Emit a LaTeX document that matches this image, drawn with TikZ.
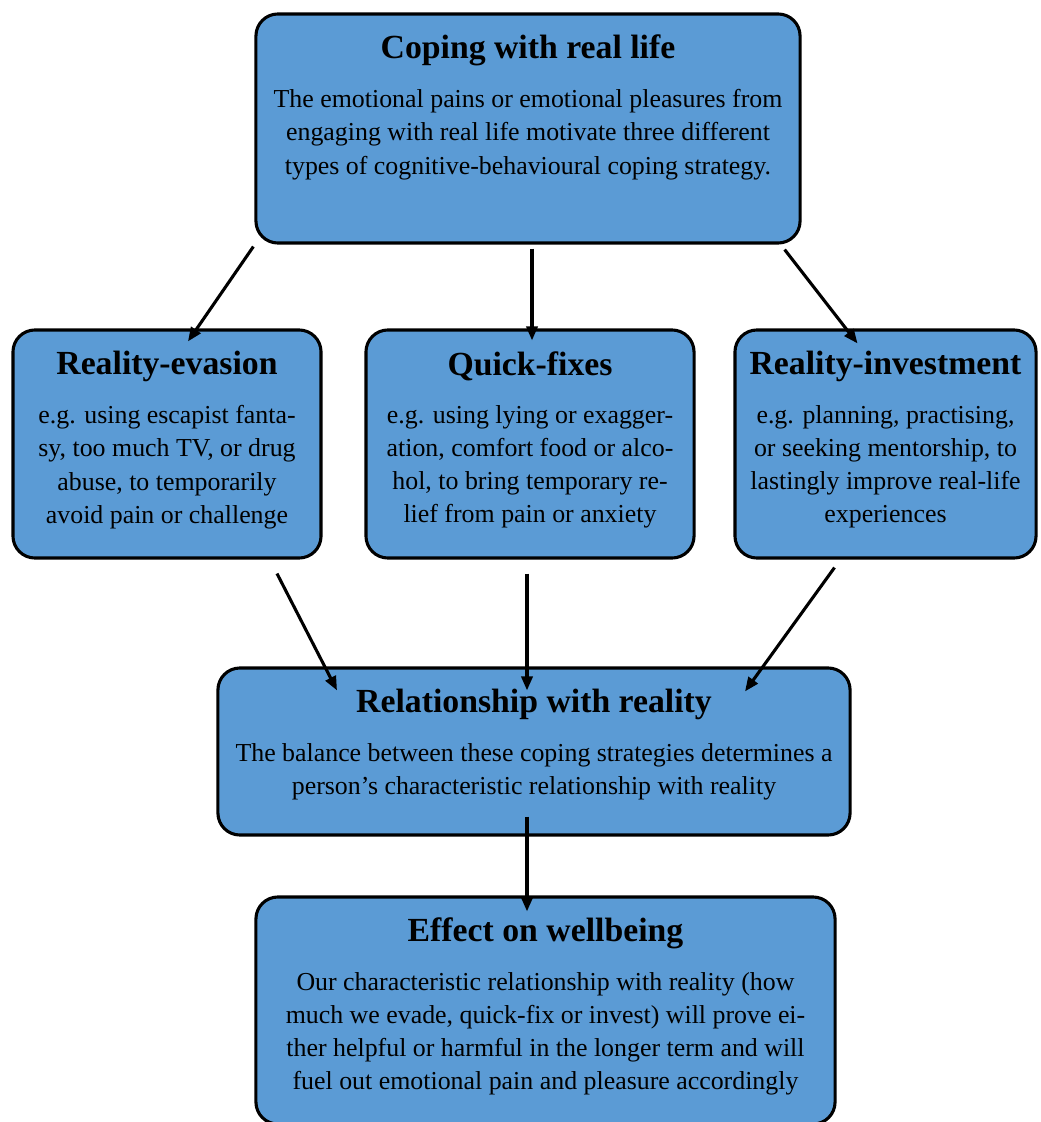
\documentclass[tikz,border=0pt]{standalone}
\usepackage{fontspec}
\setmainfont{Liberation Serif}
\usetikzlibrary{arrows.meta,positioning}
\definecolor{boxblue}{RGB}{91,155,213}
\tikzset{%
    stage/.style={draw=black, line width=2.2pt, fill=boxblue, rounded corners=0.55cm, inner sep=0pt},
    ttl/.style={font=\fontsize{24}{27}\selectfont\bfseries, inner sep=0pt},
    blurb/.style={font=\fontsize{18.4}{23.5}\selectfont, align=center, inner sep=0pt},
    link/.style={-{Triangle[length=10pt,width=8pt]}, line width=2.2pt}
}
\begin{document}
\begin{tikzpicture}[x=0.025cm,y=-0.025cm]
    \useasboundingbox (0,0) rectangle (1040,1122);
    % boxes
    \node[stage, minimum width=13.6cm, minimum height=5.725cm] (cope) at (528,128.5) {};
    \node[stage, minimum width=7.7cm, minimum height=5.7cm] (eva) at (167,444) {};
    \node[stage, minimum width=8.2cm, minimum height=5.7cm] (quick) at (530,444) {};
    \node[stage, minimum width=7.525cm, minimum height=5.7cm] (inv) at (885.5,444) {};
    \node[stage, minimum width=15.8cm, minimum height=4.175cm] (rel) at (534,751.5) {};
    \node[stage, minimum width=14.475cm, minimum height=5.675cm] (eff) at (545.5,1010.5) {};
    % titles
    \node[ttl] (copeT) at ([shift={(0,38)}]cope.north) {Coping with real life};
    \node[ttl] (evaT) at ([shift={(0,38)}]eva.north) {Reality-evasion};
    \node[ttl] (quickT) at ([shift={(0,38)}]quick.north) {Quick-fixes};
    \node[ttl] (invT) at ([shift={(0,38)}]inv.north) {Reality-investment};
    \node[ttl] (relT) at ([shift={(0,38)}]rel.north) {Relationship with reality};
    \node[ttl] (effT) at ([shift={(0,38)}]eff.north) {Effect on wellbeing};
    % texts
    \node[blurb, anchor=north] (copeB) at ([shift={(0,77)}]cope.north)
        {The emotional pains or emotional pleasures from\\engaging with real life motivate three different\\types of cognitive-behavioural coping strategy.};
    \node[blurb, anchor=north] (evaB) at ([shift={(0,77)}]eva.north)
        {e.g. using escapist fanta-\\sy, too much TV, or drug\\abuse, to temporarily\\avoid pain or challenge};
    \node[blurb, anchor=north] (quickB) at ([shift={(0,77)}]quick.north)
        {e.g. using lying or exagger-\\ation, comfort food or alco-\\hol, to bring temporary re-\\lief from pain or anxiety};
    \node[blurb, anchor=north] (invB) at ([shift={(0,77)}]inv.north)
        {e.g. planning, practising,\\or seeking mentorship, to\\lastingly improve real-life\\experiences};
    \node[blurb, anchor=north] (relB) at ([shift={(0,77)}]rel.north)
        {The balance between these coping strategies determines a\\person’s characteristic relationship with reality};
    \node[blurb, anchor=north] (effB) at ([shift={(0,77)}]eff.north)
        {Our characteristic relationship with reality (how\\much we evade, quick-fix or invest) will prove ei-\\ther helpful or harmful in the longer term and will\\fuel out emotional pain and pleasure accordingly};
    % arrows
    \draw[link] ([shift={(-1,2)}]cope.south west) -- ([shift={(21,13)}]eva.north);
    \draw[link] ([shift={(4,4)}]cope.south) -- ([shift={(2,12)}]quick.north);
    \draw[link] ([shift={(-17,5)}]cope.south east) -- ([shift={(-28,15)}]inv.north);
    \draw[link] ([shift={(110,14)}]eva.south) -- ([shift={(-197,24)}]rel.north);
    \draw[link] ([shift={(-3,14)}]quick.south) -- ([shift={(-7,24)}]rel.north);
    \draw[link] ([shift={(-51,8)}]inv.south) -- ([shift={(211,25)}]rel.north);
    \draw[link] ([shift={(-7,-20)}]rel.south) -- ([shift={(-18.5,16)}]eff.north);
\end{tikzpicture}
\end{document}
